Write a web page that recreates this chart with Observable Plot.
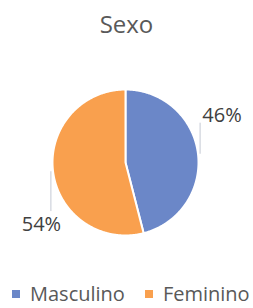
<!DOCTYPE html>
<html><head><meta charset="utf-8">
<script src="https://cdn.jsdelivr.net/npm/d3@7"></script>
<script src="https://cdn.jsdelivr.net/npm/@observablehq/plot@0.6"></script>
<style>
html,body{margin:0;padding:0;background:#fff;}
body{width:253px;height:308px;position:relative;overflow:hidden;font-family:"Open Sans",sans-serif;}
#title{position:absolute;left:0;top:7px;width:253px;text-align:center;font-size:24px;color:#595959;line-height:33px;}
#chart{position:absolute;left:0;top:40px;}
#legend{position:absolute;left:12px;top:277px;width:300px;line-height:1;}
#legend div{flex-wrap:nowrap !important;white-space:nowrap;line-height:1;}
</style></head><body>
<div id="title"></div><div id="chart"></div><div id="legend"></div>
<script>
const title = "Sexo";
const categories = ["Masculino", "Feminino"];
const values = [46, 54];
const colors = ["#6B87C8", "#F9A04E"];

document.getElementById("title").textContent = title;

const arcs = d3.pie().sort(null)(values);
const slices = arcs.flatMap((a, i) => {
  const n = Math.ceil((a.endAngle - a.startAngle) / (Math.PI / 360));
  const pts = [{cat: categories[i], x: 0, y: 0}];
  for (let k = 0; k <= n; k++) {
    const t = a.startAngle + (a.endAngle - a.startAngle) * k / n;
    pts.push({cat: categories[i], x: Math.sin(t), y: Math.cos(t)});
  }
  return pts;
});

// label placement (Excel-like best fit with vertical leader lines)
const leaders = [], labels = [];
arcs.forEach((a, i) => {
  const mid = (a.startAngle + a.endAngle) / 2;
  const x0 = Math.sin(mid) * 1.03, y0 = Math.cos(mid);
  const right = Math.sin(mid) > 0;
  const y1 = right ? 0.54 : -0.66;
  leaders.push({cat: categories[i], x: x0, y: y0}, {cat: categories[i], x: x0, y: y1});
  labels.push({
    text: values[i] + "%",
    x: right ? x0 + 0.03 : x0 - 0.13,
    y: right ? y1 + 0.01 : -0.94,
    anchor: right ? "start" : "middle"
  });
});

const R = 73, cx = 125, cy = 122;
const plot = Plot.plot({
  width: 253, height: 225,
  margin: 0,
  x: {domain: [-1, 1], range: [cx - R, cx + R], axis: null},
  y: {domain: [-1, 1], range: [cy + R, cy - R], axis: null},
  color: {domain: categories, range: colors},
  style: {fontFamily: "Open Sans", background: "white", overflow: "visible"},
  marks: [
    Plot.line(slices, {x: "x", y: "y", z: "cat", fill: "cat", stroke: "white", strokeWidth: 2, curve: "linear-closed"}),
    Plot.line(leaders, {x: "x", y: "y", z: "cat", stroke: "#c4c9d4", strokeWidth: 1}),
    Plot.text(labels.filter(d => d.anchor === "start"), {x: "x", y: "y", text: "text", textAnchor: "start", lineAnchor: "bottom", fontSize: 20, fill: "#404040"}),
    Plot.text(labels.filter(d => d.anchor === "middle"), {x: "x", y: "y", text: "text", textAnchor: "middle", lineAnchor: "bottom", fontSize: 20, fill: "#404040"})
  ]
});
document.getElementById("chart").appendChild(plot);

const legend = Plot.legend({
  color: {domain: categories, range: colors},
  swatchSize: 8,
  style: {fontSize: "20px", fontFamily: "Open Sans", color: "#595959", lineHeight: "1"}
});
document.getElementById("legend").appendChild(legend);
</script>
</body></html>
